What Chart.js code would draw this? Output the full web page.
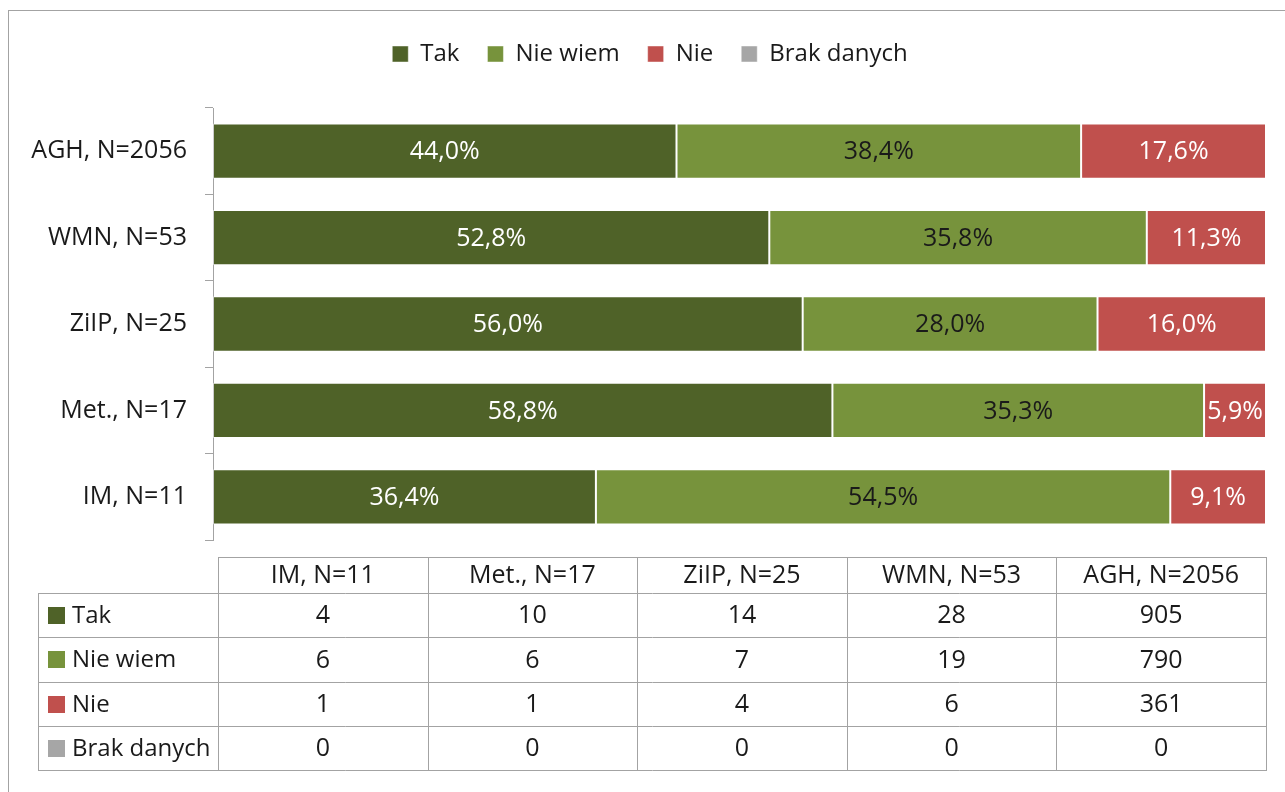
<!DOCTYPE html>
<html>
<head>
<meta charset="utf-8">
<script src="https://cdn.jsdelivr.net/npm/chart.js@4"></script>
<style>
 body {margin:0; background:#fff; overflow:hidden;}
 #frame {position:absolute; left:8px; top:10px; width:1300px; height:900px; border:1px solid #a3a3a3; box-sizing:border-box;}
 #wrap {position:absolute; left:0; top:0; width:1285px; height:792px;}
</style>
</head>
<body>
<div id="frame"></div>
<div id="wrap"><canvas id="chartID"></canvas></div>
<script>
// categories in table order (IM first), bars drawn bottom-up
var groups=['IM, N=11','Met., N=17','ZiIP, N=25','WMN, N=53','AGH, N=2056'];
var seriesNames=['Tak','Nie wiem','Nie','Brak danych'];
var seriesColors=['#4F6228','#77933C','#C0504D','#A6A6A6'];
var labelColors=['#ffffff','#1a1a1a','#ffffff','#1a1a1a'];
var takCounts=[4,10,14,28,905];
var nieWiemCounts=[6,6,7,19,790];
var nieCounts=[1,1,4,6,361];
var brakCounts=[0,0,0,0,0];
var counts=[takCounts,nieWiemCounts,nieCounts,brakCounts];

var FONT='"Open Sans", "Noto Sans", sans-serif';
var TXT='#1a1a1a';
var LINE='#a3a3a3';

function totals() {
 var t=[];
 for (var i=0; i<groups.length; i++) {
  var s=0;
  for (var k=0; k<counts.length; k++) {s+=counts[k][i];}
  t.push(s);
 }
 return t;
}
var groupTotals=totals();
function pct(k) {
 return counts[k].map(function(v,i) {return v/groupTotals[i]*100;});
}
function fmt(v) {return v.toFixed(1).replace('.',',')+'%';}

var datasets=[];
for (var k=0; k<seriesNames.length; k++) {
 datasets.push({label:seriesNames[k], data:pct(k), backgroundColor:seriesColors[k],
  borderColor:'rgba(255,255,255,0.45)', borderWidth:1, borderSkipped:false});
}

// extra room under the legend, and legend centred a bit to the right
var legendGap={id:'legendGap',
 beforeInit:function(chart) {
  var fit=chart.legend.fit;
  chart.legend.fit=function() {fit.bind(chart.legend)(); this.height+=32;};
 },
 afterLayout:function(chart) {chart.legend.left+=34;}
};

var barLabels={id:'barLabels', afterDatasetsDraw:function(chart) {
 var ctx=chart.ctx;
 ctx.save();
 ctx.font='25px '+FONT;
 ctx.textAlign='center';
 ctx.textBaseline='middle';
 chart.data.datasets.forEach(function(ds,k) {
  var meta=chart.getDatasetMeta(k);
  meta.data.forEach(function(bar,i) {
   if (!ds.data[i]) return;
   var p=bar.getProps(['x','y','base'],true);
   ctx.fillStyle=labelColors[k];
   ctx.fillText(fmt(ds.data[i]),(p.x+p.base)/2,p.y+1);
  });
 });
 ctx.restore();
}};

var dataTable={id:'dataTable', afterDraw:function(chart) {
 var ctx=chart.ctx;
 var top=557, headH=36, rowH=44.3, labL=38, colL=218, right=Math.round(chart.chartArea.right);
 var colW=(right-colL)/groups.length;
 var bottom=top+headH+rowH*seriesNames.length;
 function px(v) {return Math.round(v)+0.5;}
 ctx.save();
 ctx.strokeStyle=LINE; ctx.lineWidth=1;
 ctx.beginPath();
 ctx.moveTo(colL,px(top)); ctx.lineTo(right,px(top));
 for (var r=0; r<=seriesNames.length; r++) {
  var y=px(top+headH+r*rowH);
  ctx.moveTo(labL,y); ctx.lineTo(right+1,y);
 }
 ctx.moveTo(px(labL),top+headH); ctx.lineTo(px(labL),px(bottom));
 for (var c=0; c<=groups.length; c++) {
  var x=px(colL+c*colW);
  ctx.moveTo(x,top); ctx.lineTo(x,px(bottom));
 }
 ctx.stroke();
 ctx.font='25px '+FONT;
 ctx.fillStyle=TXT;
 ctx.textBaseline='middle';
 ctx.textAlign='center';
 groups.forEach(function(g,i) {ctx.fillText(g,colL+(i+0.5)*colW,top+headH/2+1);});
 for (var k=0; k<seriesNames.length; k++) {
  var cy=top+headH+(k+0.5)*rowH+1;
  ctx.textAlign='center';
  ctx.fillStyle=TXT;
  counts[k].forEach(function(v,i) {ctx.fillText(String(v),colL+(i+0.5)*colW,cy);});
  ctx.fillStyle=seriesColors[k];
  ctx.fillRect(48,Math.round(cy-9),17,17);
  ctx.fillStyle=TXT;
  ctx.textAlign='left';
  ctx.font='24px '+FONT;
  ctx.fillText(seriesNames[k],72,cy);
  ctx.font='25px '+FONT;
 }
 ctx.restore();
}};

var ctx=document.getElementById('chartID').getContext('2d');
var chart=new Chart(ctx,{
 type:'bar',
 data:{labels:groups, datasets:datasets},
 options:{
  indexAxis:'y', responsive:true, maintainAspectRatio:false, animation:false,
  layout:{padding:{top:14, right:19, bottom:252, left:0}},
  datasets:{bar:{barPercentage:0.64, categoryPercentage:1}},
  plugins:{
   legend:{position:'top', labels:{boxWidth:16, boxHeight:16, padding:28, color:TXT, font:{family:FONT, size:24}}},
   tooltip:{enabled:false}
  },
  scales:{
   x:{stacked:true, min:0, max:100, display:false},
   y:{stacked:true, reverse:true,
    afterFit:function(scale) {scale.width=213;},
    grid:{drawOnChartArea:false, tickLength:8, color:LINE},
    border:{color:LINE},
    ticks:{color:TXT, padding:18, font:{family:FONT, size:25}}
   }
  }
 },
 plugins:[legendGap,barLabels,dataTable]
});
</script>
</body>
</html>
